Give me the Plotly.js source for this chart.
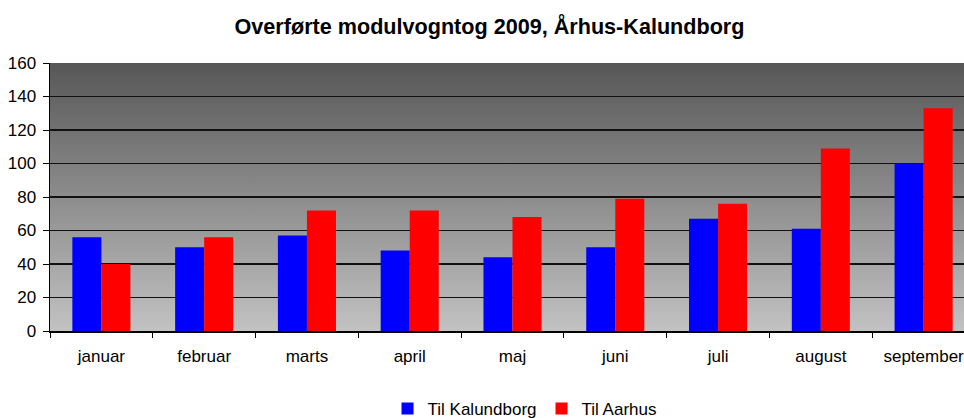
<!DOCTYPE html>
<html>
<head>
<meta charset="utf-8">
<script src="https://cdn.plot.ly/plotly-3.0.1.min.js"></script>
<style>
html,body{margin:0;padding:0;overflow:hidden;background:#fff;width:964px;height:418px;}
#chart{width:1000px;height:418px;}
</style>
</head>
<body>
<div id="chart"></div>
<script>
const months = ["januar","februar","marts","april","maj","juni","juli","august","september"];
const tilKalundborg = [56, 50, 57, 48, 44, 50, 67, 61, 100];
const tilAarhus = [40, 56, 72, 72, 68, 79, 76, 109, 133];
const yTicks = [0,20,40,60,80,100,120,140,160];

const gradSvg = '<svg xmlns="http://www.w3.org/2000/svg" width="10" height="100" preserveAspectRatio="none"><defs><linearGradient id="g" x1="0" y1="0" x2="0" y2="1"><stop offset="0" stop-color="#575757"/><stop offset="1" stop-color="#c2c2c2"/></linearGradient></defs><rect width="10" height="100" fill="url(#g)"/></svg>';
const gradUri = 'data:image/svg+xml;base64,' + btoa(gradSvg);

const traces = [
  {type:'bar', name:'Til Kalundborg', x:months, y:tilKalundborg, marker:{color:'#0000ff'}},
  {type:'bar', name:'Til Aarhus', x:months, y:tilAarhus, marker:{color:'#ff0000'}}
];

const layout = {
  width:1000, height:418,
  margin:{l:50, r:25, t:63, b:87, autoexpand:false},
  paper_bgcolor:'#ffffff',
  plot_bgcolor:'rgba(0,0,0,0)',
  font:{family:'"Liberation Sans", Arial, sans-serif', size:17, color:'#000'},
  title:{text:'<b>Overførte modulvogntog 2009, Århus-Kalundborg</b>', x:0.4895, xanchor:'center', y:0.937, yanchor:'middle', font:{size:21.6, color:'#000'}},
  barmode:'group', bargap:0.435, bargroupgap:0,
  xaxis:{type:'category', automargin:false, range:[-0.5,8.5], showline:true, linecolor:'#000', linewidth:1.5, ticks:'outside', tickson:'boundaries', ticklen:5, tickcolor:'#000', showgrid:false, ticklabelstandoff:9, tickfont:{size:17}},
  yaxis:{automargin:false, range:[0,160], tickvals:yTicks, ticktext:yTicks.map(String), showline:true, linecolor:'#000', linewidth:1.5, ticks:'outside', ticklen:6, tickcolor:'#000', gridcolor:'#111', gridwidth:1.5, zeroline:false, tickfont:{size:17}, ticklabelstandoff:3},
  legend:{orientation:'h', x:0.513, xanchor:'center', y:-0.224, yanchor:'top', font:{size:17}, itemwidth:30, tracegroupgap:0},
  images:[{source:gradUri, xref:'paper', yref:'paper', x:0, y:1, sizex:1, sizey:1, sizing:'stretch', layer:'below', xanchor:'left', yanchor:'top'}],
  showlegend:true
};

Plotly.newPlot('chart', traces, layout, {displayModeBar:false, staticPlot:true});
</script>
</body>
</html>
